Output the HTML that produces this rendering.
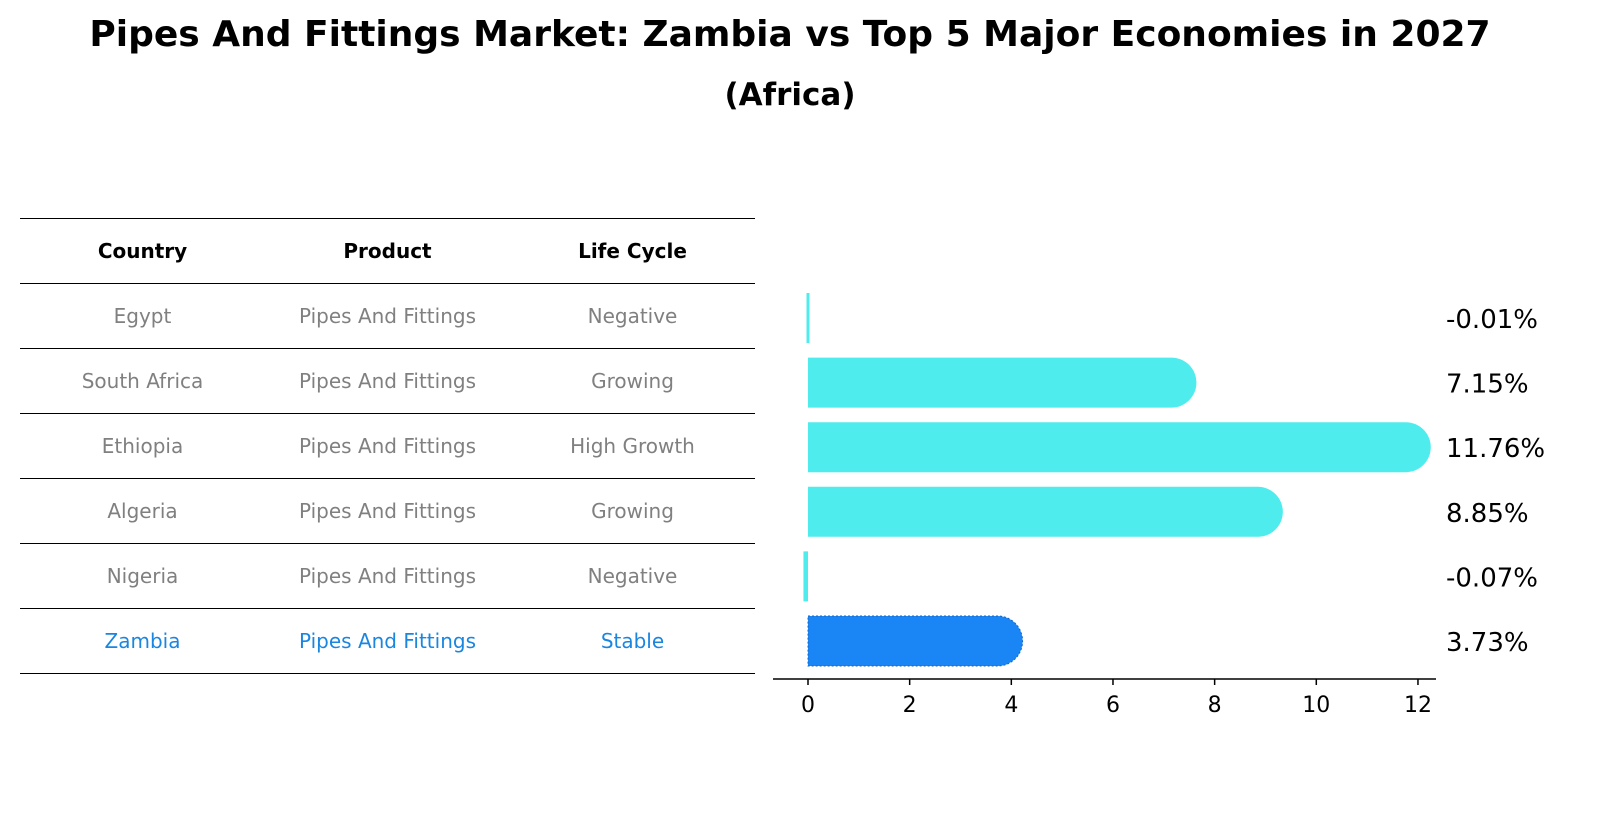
<!DOCTYPE html>
<html><head><meta charset="utf-8"><style>
body{margin:0;background:#fff;font-family:"DejaVu Sans","Liberation Sans",sans-serif;}
#wrap{position:relative;width:1604px;height:823px;overflow:hidden;}
.t{position:absolute;left:0;width:1580px;text-align:center;font-weight:bold;color:#000;}
table{position:absolute;left:20px;top:218px;width:735px;border-collapse:collapse;font-size:20px;}
td,th{height:64px;text-align:center;border-top:1px solid #000;border-bottom:1px solid #000;padding:0;}
th{font-size:20px;color:#000;}
td{color:#808080;}
tr.z td{color:#1a86e0;}
</style></head><body><div id="wrap">
<div class="t" style="top:14px;font-size:36px">Pipes And Fittings Market: Zambia vs Top 5 Major Economies in 2027</div>
<div class="t" style="top:77px;font-size:31px">(Africa)</div>
<table>
<tr><th style="width:245px">Country</th><th style="width:245px">Product</th><th>Life Cycle</th></tr>
<tr><td>Egypt</td><td>Pipes And Fittings</td><td>Negative</td></tr>
<tr><td>South Africa</td><td>Pipes And Fittings</td><td>Growing</td></tr>
<tr><td>Ethiopia</td><td>Pipes And Fittings</td><td>High Growth</td></tr>
<tr><td>Algeria</td><td>Pipes And Fittings</td><td>Growing</td></tr>
<tr><td>Nigeria</td><td>Pipes And Fittings</td><td>Negative</td></tr>
<tr class="z"><td>Zambia</td><td>Pipes And Fittings</td><td>Stable</td></tr>
</table>
<svg id="svg" width="1604" height="823" style="position:absolute;left:0;top:0"></svg>
</div>
<script>
const countries=["Egypt","South Africa","Ethiopia","Algeria","Nigeria","Zambia"];
const values=[-0.01,7.15,11.76,8.85,-0.07,3.73];
const labels=["-0.01%","7.15%","11.76%","8.85%","-0.07%","3.73%"];
const ticks=[0,2,4,6,8,10,12];
const NS="http://www.w3.org/2000/svg",svg=document.getElementById("svg");
const x=v=>808+v*50.83, y=i=>318+i*64.6, H=50;
function mk(t,a){const e=document.createElementNS(NS,t);for(const k in a)e.setAttribute(k,a[k]);svg.appendChild(e);return e;}
countries.forEach((c,i)=>{
  const v=values[i],z=c==="Zambia";
  const x0=Math.min(x(0),x(v)),w=Math.max(Math.abs(x(v)-x(0)),2);
  const top=y(i)-H/2,col=z?"#1a86f5":"#4eecec";
  let d;
  if(v>0){const xe=x0+w;d=`M${x0},${top}H${xe}A25,25 0 0 1 ${xe},${top+H}H${x0}Z`;}
  else{d=`M${x0-1},${top}h${w+1}v${H}h${-(w+1)}Z`;}
  const p=mk("path",{d,fill:col,stroke:z?"#1565c0":"none","stroke-dasharray":z?"2,2":"","stroke-width":z?1:0});
  
  
  const t=mk("text",{x:1446,y:y(i)+10,"font-size":26,fill:"#000","font-family":"DejaVu Sans, Liberation Sans, sans-serif"});
  t.textContent=labels[i];
  
  
});
const ax=mk("line",{x1:773,x2:1436,y1:679,y2:679,stroke:"#000","stroke-width":1.5});


ticks.forEach(v=>{
  mk("line",{x1:x(v),x2:x(v),y1:679,y2:685,stroke:"#000","stroke-width":1.5});
  const t=mk("text",{x:x(v),y:712,"font-size":22,"text-anchor":"middle","font-family":"DejaVu Sans, Liberation Sans, sans-serif"});
  t.textContent=v;
  
  
});
</script></body></html>
